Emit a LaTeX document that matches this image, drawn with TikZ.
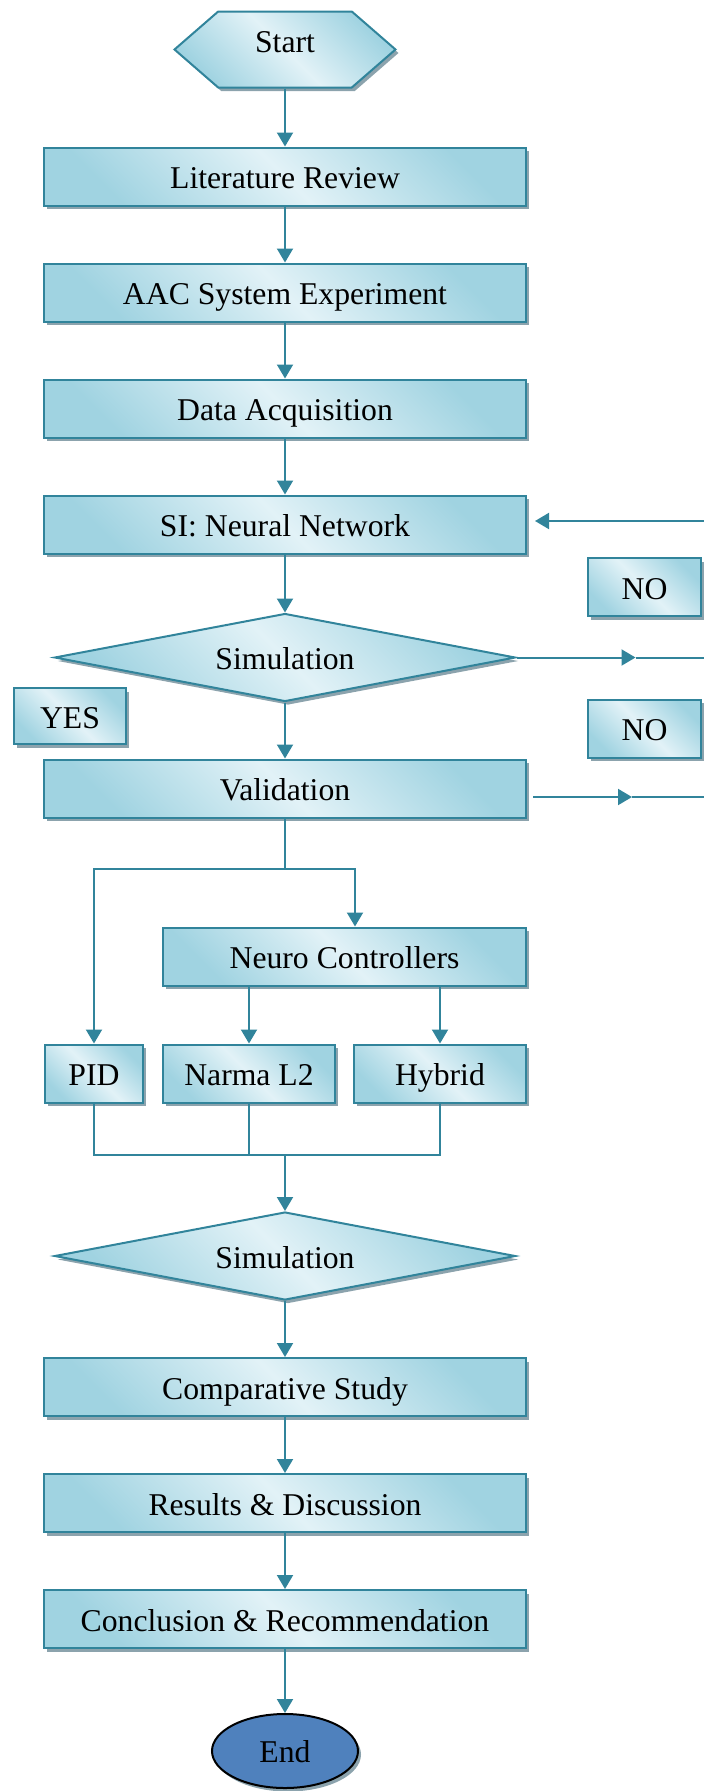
\documentclass[tikz,border=0pt]{standalone}
\usepackage{fontspec}
\setmainfont{Liberation Serif}
\usetikzlibrary{arrows.meta, positioning, shapes.geometric, shapes.symbols, shadows}

\definecolor{linec}{HTML}{31849B}
\definecolor{boxlight}{HTML}{E2F2F7}
\definecolor{boxdark}{HTML}{A0D3E1}
\definecolor{shadowc}{HTML}{8CA3AD}
\definecolor{endblue}{HTML}{4F81BD}

\begin{document}
\begin{tikzpicture}[
  x=1pt, y=-1pt,
  node distance=56pt and 18pt,
  every node/.style={font=\fontsize{31.7}{38}\selectfont, text height=26pt, text depth=2pt},
  boxshadow/.style={drop shadow={shadow xshift=3pt, shadow yshift=-3.5pt, fill=shadowc, opacity=1}},
  tint/.style={draw=linec, line width=2pt, top color=boxdark, bottom color=boxdark, middle color=boxlight, shading angle=-45, boxshadow},
  box/.style={rectangle, tint, minimum height=58pt, inner sep=0pt, align=center},
  mainbox/.style={box, minimum width=482pt},
  decision/.style={diamond, tint, aspect=5, minimum width=461pt, minimum height=88pt, inner sep=0pt},
  hexa/.style={signal, signal to=east and west, signal pointer angle=82, tint, minimum width=221pt, minimum height=76pt, inner sep=0pt, text height=20pt, text depth=15pt},
  terminal/.style={ellipse, draw=black, line width=2pt, fill=endblue, boxshadow, minimum width=146pt, minimum height=74pt, text depth=4pt},
  conn/.style={draw=linec, line width=2pt},
  arr/.style={conn, -{Triangle[length=14pt, width=16pt]}},
]
 \useasboundingbox (0,0) rectangle (704,1791);

 % ---- main column ----
 \node[hexa] (start) at (285,49.5) {Start};
 \node[mainbox, below=58pt of start] (lit) {Literature Review};
 \node[mainbox, below=of lit] (aac) {AAC System Experiment};
 \node[mainbox, below=of aac] (data) {Data Acquisition};
 \node[mainbox, below=of data] (si) {SI: Neural Network};
 \node[decision, below=58pt of si] (sim1) {Simulation};
 \node[mainbox, below=of sim1] (val) {Validation};

 % ---- answer labels ----
 \node[box, minimum width=112pt, minimum height=56pt] (yes) at (70,716) {YES};
 \node[box, minimum width=113pt] (no1) at (644.5,587) {NO};
 \node[box, minimum width=113pt] (no2) at (644.5,728.5) {NO};

 % ---- controllers ----
 \node[box, minimum width=363pt] (nc) at (344.5,956.5) {Neuro Controllers};
 \node[box, minimum width=172pt, below right=57pt and 0pt of nc.south west] (narma) {Narma L2};
 \node[box, minimum width=172pt, below left=57pt and 0pt of nc.south east] (hybrid) {Hybrid};
 \node[box, minimum width=98pt, left=18pt of narma] (pid) {PID};

 % ---- second half ----
 \node[decision] (sim2) at (285,1256) {Simulation};
 \node[mainbox, below=of sim2] (comp) {Comparative Study};
 \node[mainbox, below=of comp] (res) {Results \& Discussion};
 \node[mainbox, below=of res] (concl) {Conclusion \& Recommendation};
 \node[terminal, below=64pt of concl] (end) {End};

 \coordinate (fork) at (285,869);
 \coordinate (join) at (285,1155);
 \coordinate (backin) at (704,521);
 \coordinate (valout) at (704,797);
 \coordinate (valtip) at (632,797);
 \path (sim1.east) ++(119pt,0) coordinate (simtip);

 \draw[arr] (start) -- (lit);
 \draw[arr] (lit) -- (aac);
 \draw[arr] (aac) -- (data);
 \draw[arr] (data) -- (si);
 \draw[arr] (si) -- (sim1);
 \draw[arr] (sim1) -- (val);
 \draw[arr, shorten >=8pt] (backin) -- (backin -| si.east);
 \draw[arr] (sim1.east) -- (simtip);
 \draw[conn] (simtip) -- (simtip -| backin);
 \draw[arr, shorten <=6pt] (val.east |- valout) -- (valtip);
 \draw[conn] (valtip) -- (valout);

 \draw[conn] (val) -- (fork);
 \draw[arr] (fork) -| (pid);
 \draw[arr] (fork) -| ([xshift=10.5pt]nc.north);
 \draw[arr] (nc.south -| narma) -- (narma);
 \draw[arr] (nc.south -| hybrid) -- (hybrid);
 \draw[conn] (pid) |- (join);
 \draw[conn] (narma) |- (join);
 \draw[conn] (hybrid) |- (join);
 \draw[arr] (join) -- (sim2);

 \draw[arr] (sim2) -- (comp);
 \draw[arr] (comp) -- (res);
 \draw[arr] (res) -- (concl);
 \draw[arr] (concl) -- (end);

\end{tikzpicture}
\end{document}
